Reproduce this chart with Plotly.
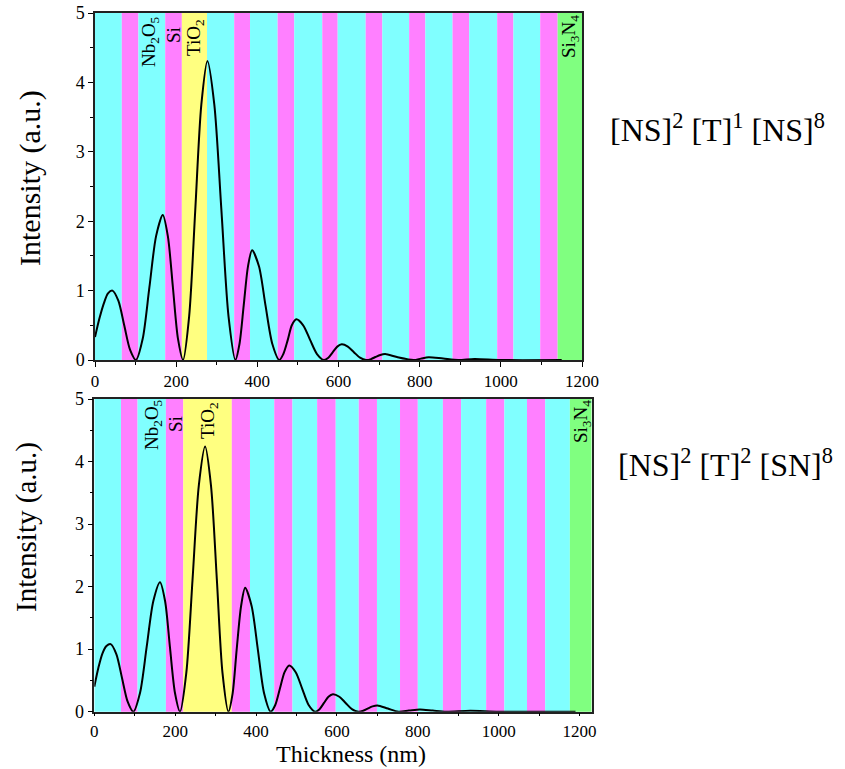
import plotly.graph_objects as go

# ---------------- data ----------------
# layer boundaries (nm) and material of each layer
top_edges = [0, 66, 107, 173, 214, 276, 343, 382, 450, 491, 560, 598, 667, 708,
             774, 814, 881, 922, 991, 1031, 1097, 1140, 1200]
top_mats = ["N", "S", "N", "S", "T"] + ["N", "S"] * 8 + ["G"]

bot_edges = [0, 66, 107, 177, 220, 340, 385, 445, 490, 551, 597, 654, 699, 756,
             800, 862, 907, 969, 1014, 1070, 1115, 1176, 1230]
bot_mats = ["N", "S", "N", "S", "T"] + ["S", "N"] * 8 + ["G"]

top_x = [0, 11, 22, 32, 43, 57.5, 72, 86.5, 101,
         117.5, 134, 150.5, 167, 179.5, 192, 204.5, 217,
         232, 247, 262, 277, 294, 311.5, 329, 346,
         356, 366.5, 377, 387, 404, 420, 437, 454,
         464, 475, 485, 496, 513, 530, 547, 564,
         575, 586, 597, 608, 623, 638, 653, 668,
         680, 691, 703, 715, 744, 785,
         803, 822, 858, 895, 935, 1000, 1150]
top_y = [0.33, 0.60, 0.82, 0.96, 1.00, 0.854, 0.50, 0.146, 0.0,
         0.305, 1.045, 1.785, 2.09, 1.785, 1.045, 0.305, 0.0,
         0.63, 2.155, 3.68, 4.31, 3.68, 2.155, 0.63, 0.0,
         0.23, 0.79, 1.35, 1.58, 1.35, 0.79, 0.23, 0.0,
         0.086, 0.29, 0.50, 0.586, 0.50, 0.29, 0.086, 0.0,
         0.033, 0.113, 0.193, 0.226, 0.193, 0.113, 0.033, 0.0,
         0.013, 0.043, 0.073, 0.086, 0.043, 0.0,
         0.02, 0.04, 0.02, 0.0, 0.015, 0.0, 0.0]

bot_x = [0, 10, 20, 30, 40.5, 54.5, 68.5, 82.5, 96.5,
         113, 129.5, 146, 162.5, 175, 187, 199.5, 212,
         227.5, 243, 258.5, 274, 288.5, 303, 317, 331.6,
         342, 352, 363, 373, 389, 404.5, 420, 436,
         447.5, 459, 470.5, 482, 498, 514, 530, 546,
         557, 568, 579, 590, 606, 621.5, 637, 653,
         665, 676, 688, 700, 726, 752,
         778, 805, 837, 870, 930, 1000, 1190]
bot_y = [0.40, 0.70, 0.93, 1.05, 1.08, 0.92, 0.54, 0.16, 0.0,
         0.30, 1.035, 1.77, 2.07, 1.77, 1.035, 0.30, 0.0,
         0.62, 2.12, 3.62, 4.24, 3.62, 2.12, 0.62, 0.0,
         0.29, 0.99, 1.69, 1.98, 1.69, 0.99, 0.29, 0.0,
         0.108, 0.37, 0.632, 0.74, 0.632, 0.37, 0.108, 0.0,
         0.041, 0.14, 0.239, 0.28, 0.239, 0.14, 0.041, 0.0,
         0.015, 0.05, 0.085, 0.10, 0.05, 0.0,
         0.0175, 0.035, 0.0175, 0.0, 0.015, 0.0, 0.0]

x_ticks = [0, 200, 400, 600, 800, 1000, 1200]
y_ticks = [0, 1, 2, 3, 4, 5]

mat_colors = {"N": "#80FFFF", "S": "#FF80FF", "T": "#FFFF80", "G": "#80FF80"}

# ---------------- figure ----------------
W, H = 845, 769
FONT = "Liberation Serif"

fig = go.Figure()
fig.add_trace(go.Scatter(x=top_x, y=top_y, mode="lines", xaxis="x", yaxis="y",
                         line=dict(color="black", width=2, shape="spline", smoothing=0.8),
                         showlegend=False, hoverinfo="skip"))
fig.add_trace(go.Scatter(x=bot_x, y=bot_y, mode="lines", xaxis="x2", yaxis="y2",
                         line=dict(color="black", width=2, shape="spline", smoothing=0.8),
                         showlegend=False, hoverinfo="skip"))

shapes = []
for edges, mats, xr, yr in [(top_edges, top_mats, "x", "y domain"),
                            (bot_edges, bot_mats, "x2", "y2 domain")]:
    for i, m in enumerate(mats):
        shapes.append(dict(type="rect", xref=xr, yref=yr, x0=edges[i], x1=edges[i + 1],
                           y0=0, y1=1, fillcolor=mat_colors[m], line=dict(width=0),
                           layer="below"))


def xaxis(domain, rng, anchor, ticklen=5):
    return dict(domain=domain, range=rng, anchor=anchor, tickvals=x_ticks,
                ticks="outside", ticklen=ticklen, tickwidth=1, tickcolor="black",
                minor=dict(dtick=100, ticks="outside", ticklen=3, tickcolor="black"),
                showline=True, linecolor="#222", linewidth=1.5, mirror=True,
                showgrid=False, zeroline=False, automargin=False,
                tickfont=dict(family=FONT, size=17, color="black"))


def yaxis(domain, anchor):
    return dict(domain=domain, range=[0, 5], anchor=anchor, tickvals=y_ticks,
                ticks="outside", ticklen=5, tickwidth=1, tickcolor="black",
                minor=dict(dtick=0.5, ticks="outside", ticklen=3, tickcolor="black"),
                showline=True, linecolor="#222", linewidth=1.5, mirror=True,
                showgrid=False, zeroline=False, automargin=False,
                tickfont=dict(family=FONT, size=18, color="black"))


top_xd = [95 / W, 582 / W]
top_yd = [1 - 360 / H, 1 - 13 / H]
bot_xd = [94.3 / W, 591.7 / W]
bot_yd = [1 - 711.7 / H, 1 - 399 / H]

anns = []


def ann(text, x, y, size, angle=0, xanchor="center", yanchor="middle"):
    anns.append(dict(text=text, x=x / W, y=1 - y / H, xref="paper", yref="paper",
                     showarrow=False, textangle=angle, xanchor=xanchor, yanchor=yanchor,
                     font=dict(family=FONT, size=size, color="black")))


# material labels
ann("Nb<sub>2</sub>O<sub>5</sub>", 150, 42, 19, -90)
ann("Si", 173, 35, 19, -90)
ann("TiO<sub>2</sub>", 195, 38, 19, -90)
ann("Si<sub>3</sub>N<sub>4</sub>", 570, 37, 19, -90)
ann("Nb<sub>2</sub>O<sub>5</sub>", 153, 425, 19, -90)
ann("Si", 176, 424, 19, -90)
ann("TiO<sub>2</sub>", 209, 421, 19, -90)
ann("Si<sub>3</sub>N<sub>4</sub>", 582, 422, 19, -90)

# axis titles
ann("Intensity (a.u.)", 30, 178, 30, -90)
ann("Intensity (a.u.)", 26, 527, 29, -90)
ann("Thickness (nm)", 351, 769, 24, yanchor="bottom")

# structure labels
ann("[NS]<sup>2</sup> [T]<sup>1</sup> [NS]<sup>8</sup>", 717, 128, 32)
ann("[NS]<sup>2</sup> [T]<sup>2</sup> [SN]<sup>8</sup>", 725, 463, 32)

fig.update_layout(
    width=W, height=H,
    margin=dict(l=0, r=0, t=0, b=0, autoexpand=False),
    paper_bgcolor="white", plot_bgcolor="white",
    xaxis=xaxis(top_xd, [0, 1200], "y"),
    yaxis=yaxis(top_yd, "x"),
    xaxis2=xaxis(bot_xd, [0, 1230], "y2", ticklen=3),
    yaxis2=yaxis(bot_yd, "x2"),
    shapes=shapes,
    annotations=anns,
)

fig.write_html("out.html")
